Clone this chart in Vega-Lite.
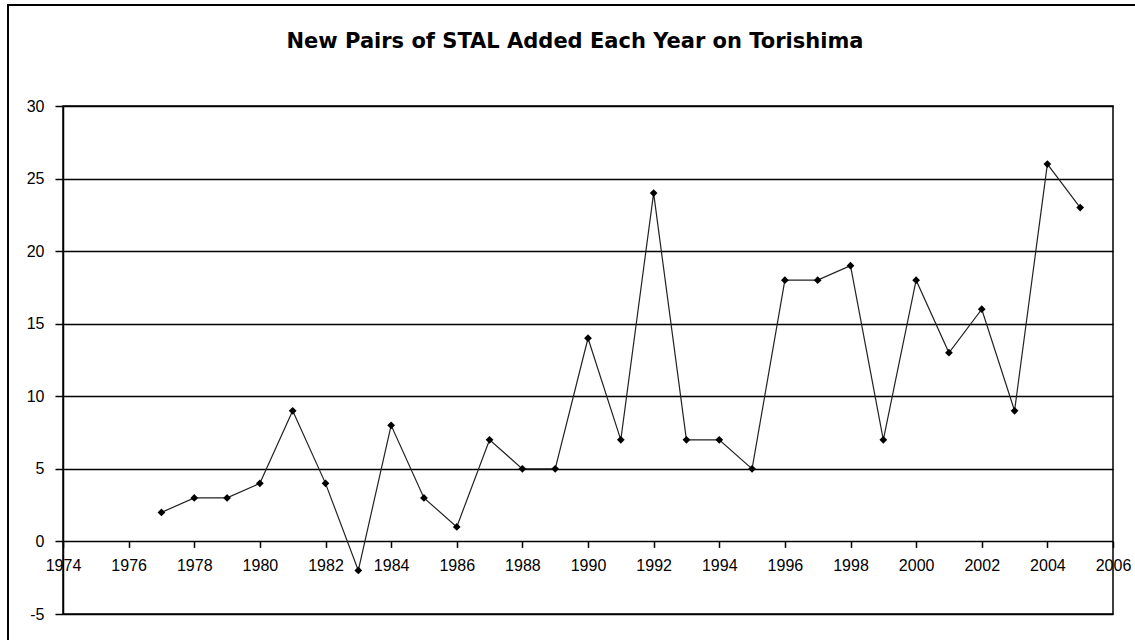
{
  "$schema": "https://vega.github.io/schema/vega-lite/v6.json",
  "width": 1050,
  "height": 508,
  "autosize": "none",
  "padding": {"left": 63, "top": 106, "right": 22, "bottom": 26},
  "background": "white",
  "title": {
    "text": "New Pairs of STAL Added Each Year on Torishima",
    "fontSize": 21,
    "fontWeight": "bold",
    "font": "DejaVu Sans",
    "color": "black",
    "anchor": "middle",
    "frame": "group",
    "baseline": "alphabetic",
    "dx": -13,
    "offset": -65
  },
  "config": {
    "view": {"stroke": "black", "strokeWidth": 1.5},
    "font": "Liberation Sans"
  },
  "data": {
    "values": [
      {"year": 1977, "pairs": 2},
      {"year": 1978, "pairs": 3},
      {"year": 1979, "pairs": 3},
      {"year": 1980, "pairs": 4},
      {"year": 1981, "pairs": 9},
      {"year": 1982, "pairs": 4},
      {"year": 1983, "pairs": -2},
      {"year": 1984, "pairs": 8},
      {"year": 1985, "pairs": 3},
      {"year": 1986, "pairs": 1},
      {"year": 1987, "pairs": 7},
      {"year": 1988, "pairs": 5},
      {"year": 1989, "pairs": 5},
      {"year": 1990, "pairs": 14},
      {"year": 1991, "pairs": 7},
      {"year": 1992, "pairs": 24},
      {"year": 1993, "pairs": 7},
      {"year": 1994, "pairs": 7},
      {"year": 1995, "pairs": 5},
      {"year": 1996, "pairs": 18},
      {"year": 1997, "pairs": 18},
      {"year": 1998, "pairs": 19},
      {"year": 1999, "pairs": 7},
      {"year": 2000, "pairs": 18},
      {"year": 2001, "pairs": 13},
      {"year": 2002, "pairs": 16},
      {"year": 2003, "pairs": 9},
      {"year": 2004, "pairs": 26},
      {"year": 2005, "pairs": 23}
    ]
  },
  "encoding": {
    "x": {
      "field": "year",
      "type": "quantitative",
      "scale": {"domain": [1974, 2006], "nice": false, "zero": false},
      "axis": {
        "title": null,
        "values": [1974, 1976, 1978, 1980, 1982, 1984, 1986, 1988, 1990, 1992, 1994, 1996, 1998, 2000, 2002, 2004, 2006],
        "format": "d",
        "grid": false,
        "domain": false,
        "ticks": true,
        "tickSize": 6,
        "tickColor": "black",
        "tickWidth": 1.5,
        "labelFontSize": 16,
        "labelColor": "black",
        "labelPadding": 10,
        "labelFlush": false,
        "labelOverlap": false,
        "offset": -72.6
      }
    },
    "y": {
      "field": "pairs",
      "type": "quantitative",
      "scale": {"domain": [-5, 30], "nice": false, "zero": false},
      "axis": {
        "title": null,
        "values": [-5, 0, 5, 10, 15, 20, 25, 30],
        "labelExpr": "replace(datum.label, '−', '-')",
        "grid": true,
        "gridColor": "black",
        "gridOpacity": 1,
        "gridWidth": 1.5,
        "domain": true,
        "domainColor": "black",
        "domainWidth": 1.5,
        "ticks": true,
        "tickSize": 8,
        "tickColor": "black",
        "tickWidth": 1.5,
        "labelFontSize": 16,
        "labelColor": "black",
        "labelPadding": 11,
        "labelFlush": false,
        "labelOverlap": false
      }
    }
  },
  "layer": [
    {
      "mark": {"type": "rect", "fill": null, "stroke": "black", "strokeWidth": 1.5, "clip": false},
      "encoding": {
        "x": {"datum": 1972.33, "type": "quantitative"},
        "x2": {"datum": 2007.2},
        "y": {"datum": 36.96, "type": "quantitative"},
        "y2": {"datum": -8}
      }
    },
    {
      "mark": {"type": "line", "color": "#222", "strokeWidth": 1.2}
    },
    {
      "mark": {"type": "point", "shape": "diamond", "filled": true, "color": "#000", "size": 60, "opacity": 1}
    }
  ]
}
